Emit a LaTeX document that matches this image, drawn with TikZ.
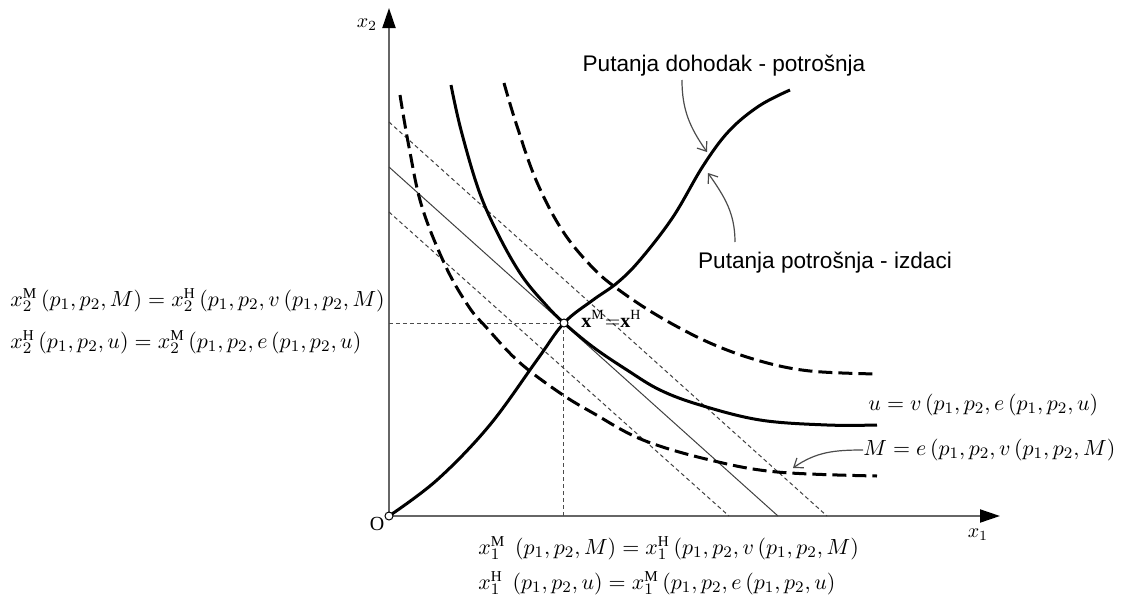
\documentclass[tikz,border=0pt]{standalone}
\usepackage{fontspec}
\setmainfont{Liberation Serif}
\setsansfont{Liberation Sans}
\usetikzlibrary{arrows.meta,positioning}
\tikzset{
  axis line/.style={draw=black!60, line width=1pt,
    -{Triangle[length=10pt,width=6.5pt,color=black]}},
  indiff/.style={line width=1.5pt},
  indiff dashed/.style={indiff, dash pattern=on 7pt off 3pt},
  budget/.style={line width=0.5pt, draw=black!75},
  budget dashed/.style={budget, dash pattern=on 2pt off 1.5pt},
  guide/.style={line width=0.5pt, draw=black!70, dash pattern=on 2pt off 1.5pt},
  pointer/.style={draw=black!70, line width=0.6pt,
    -{Straight Barb[length=4pt,width=6pt]}},
  formula/.style={anchor=west, inner sep=0pt, font=\fontsize{10.8}{13}\selectfont},
  path label/.style={font=\sffamily\fontsize{11.3}{13}\selectfont, inner sep=0pt},
  dot/.style={circle, draw, fill=white, line width=0.5pt, inner sep=0pt,
    minimum size=4pt}
}
\newcommand{\ups}[1]{^{\mathrm{#1}}}

\begin{document}
\begin{tikzpicture}[x=0.5pt,y=0.5pt]
  \useasboundingbox (-389,-86) rectangle (742,516);

  % axes
  \coordinate (O) at (0,0);
  \coordinate (xEnd) at (611,0);
  \coordinate (yEnd) at (0,508);
  \draw[axis line] (O) -- (xEnd);
  \draw[axis line] (O) -- (yEnd);
  \node (x1Lbl) at (589,-19) {$x_1$};
  \node (x2Lbl) at (-22,491) {$x_2$};
  \node (oLbl) at (-12,-8) {O};

  % budget lines
  \coordinate (bLowY) at (0,304);  \coordinate (bLowX) at (340,0);
  \coordinate (bMidY) at (0,349);  \coordinate (bMidX) at (389,0);
  \coordinate (bUpY) at (0,394);   \coordinate (bUpX) at (438,0);
  \draw[budget dashed] (bLowY) -- (bLowX);
  \draw[budget] (bMidY) -- (bMidX);
  \draw[budget dashed] (bUpY) -- (bUpX);

  % optimum and guides
  \coordinate (E) at (175,193);
  \draw[guide] (E -| O) -- (E) -- (E |- O);

  % indifference curves
  \draw[indiff dashed] plot[smooth, tension=0.6] coordinates {
    (11,421) (20,369) (33,309) (57,249) (80,209) (97,189) (130,154)
    (171,123) (204,103) (254,76) (321,56) (388,44) (488,40)};
  \draw[indiff] plot[smooth, tension=0.6] coordinates {
    (62,431) (72,386) (90,325) (110,280) (133,240) (157,211) (175,193)
    (204,169) (238,146) (271,126) (311,111) (371,96) (438,91) (488,91)};
  \draw[indiff dashed] plot[smooth, tension=0.6] coordinates {
    (115,433) (127,393) (147,336) (173,286) (203,249) (230,226) (271,199)
    (321,173) (371,155) (421,145) (488,142)};

  % income-consumption path
  \draw[indiff] plot[smooth, tension=0.6] coordinates {
    (0,0) (48,36) (100,90) (148,156) (175,193) (204,216) (228,233)
    (251,256) (284,299) (314,350) (340,385) (370,410) (401,426)};

  \node[dot] (oDot) at (O) {};
  \node[dot] (eDot) at (E) {};
  \node[anchor=west, inner sep=0pt] (eLbl) at (192,197)
    {$\mathbf{x}\ups{M}{=}\mathbf{x}\ups{H}$};

  % path labels
  \node[path label] (incLbl) at (335,450) {Putanja dohodak - potrošnja};
  \node[path label] (expLbl) at (436,253) {Putanja potrošnja - izdaci};
  \coordinate (incFrom) at (293,436);
  \coordinate (incTip) at (318,364);
  \coordinate (expFrom) at (346,274);
  \coordinate (expTip) at (319,343);
  \draw[pointer] (incFrom) to[out=-90,in=125] (incTip);
  \draw[pointer] (expFrom) to[out=90,in=-55] (expTip);

  % curve labels
  \node[formula] (uLbl) at (479,111) {$u = v\,(p_1, p_2, e\,(p_1, p_2, u)$};
  \node[formula] (mLbl) at (474,66) {$M = e\,(p_1, p_2, v\,(p_1, p_2, M)$};
  \coordinate (mTip) at (404,48);
  \draw[pointer] (mLbl.west) to[out=180,in=35] (mTip);

  % demand identities
  \node[formula] (x2M) at (-379,216)
    {$x_2\ups{M}\,(p_1, p_2, M) = x_2\ups{H}\,(p_1, p_2, v\,(p_1, p_2, M)$};
  \node[formula] (x2H) at (-379,174)
    {$x_2\ups{H}\,(p_1, p_2, u) = x_2\ups{M}\,(p_1, p_2, e\,(p_1, p_2, u)$};
  \node[formula] (x1M) at (89,-32)
    {$x_1\ups{M}\;\,(p_1, p_2, M) = x_1\ups{H}\,(p_1, p_2, v\,(p_1, p_2, M)$};
  \node[formula] (x1H) at (89,-67)
    {$x_1\ups{H}\;\,(p_1, p_2, u) = x_1\ups{M}\,(p_1, p_2, e\,(p_1, p_2, u)$};
\end{tikzpicture}
\end{document}
